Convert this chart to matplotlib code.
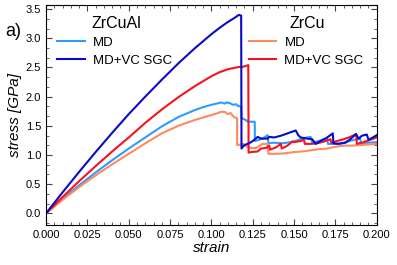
# stress-strain curves, ZrCuAl vs ZrCu

from matplotlib import pyplot as plt
from matplotlib.ticker import MultipleLocator, AutoMinorLocator

plt.rcParams['font.family'] = ['Liberation Sans', 'DejaVu Sans']

# ZrCuAl, MD
strain_al_md = [0, 0.01, 0.02, 0.03, 0.04, 0.05, 0.06, 0.07, 0.08, 0.09, 0.095, 0.1,
                0.103, 0.106, 0.108, 0.109, 0.111, 0.113, 0.115, 0.116, 0.118, 0.1183, 0.1208,
                0.122, 0.1262, 0.1263, 0.129, 0.132, 0.134, 0.1345, 0.138, 0.143, 0.148, 0.152,
                0.156, 0.160, 0.161, 0.165, 0.170, 0.1705, 0.175, 0.180, 0.185, 0.190, 0.1905,
                0.195, 0.200]
stress_al_md = [0, 0.25, 0.48, 0.70, 0.91, 1.11, 1.30, 1.49, 1.65, 1.77, 1.82, 1.86,
                1.88, 1.90, 1.88, 1.90, 1.89, 1.86, 1.87, 1.84, 1.83, 1.63, 1.60,
                1.57, 1.57, 1.24, 1.26, 1.30, 1.34, 1.20, 1.21, 1.20, 1.22, 1.25,
                1.29, 1.31, 1.21, 1.24, 1.28, 1.19, 1.19, 1.21, 1.25, 1.28, 1.19,
                1.21, 1.22]

# ZrCuAl, MD+VC SGC
strain_al_sgc = [0, 0.01, 0.02, 0.03, 0.04, 0.05, 0.06, 0.07, 0.08, 0.09, 0.1, 0.105,
                 0.11, 0.114, 0.1165, 0.118, 0.1182, 0.1195, 0.121, 0.124, 0.126, 0.128,
                 0.130, 0.134, 0.135, 0.138, 0.142, 0.146, 0.151, 0.1525, 0.154, 0.158, 0.161,
                 0.163, 0.166, 0.170, 0.1734, 0.1738, 0.177, 0.181, 0.184, 0.1875, 0.189,
                 0.191, 0.194, 0.195, 0.197, 0.200]
stress_al_sgc = [0, 0.36, 0.71, 1.05, 1.38, 1.70, 2.00, 2.29, 2.57, 2.83, 3.07, 3.18,
                 3.28, 3.35, 3.40, 3.39, 1.11, 1.16, 1.18, 1.22, 1.26, 1.31,
                 1.28, 1.28, 1.31, 1.30, 1.33, 1.37, 1.42, 1.34, 1.30, 1.28, 1.27,
                 1.19, 1.24, 1.30, 1.37, 1.20, 1.19, 1.21, 1.27, 1.36, 1.28,
                 1.33, 1.35, 1.26, 1.29, 1.34]

# ZrCu, MD
strain_cu_md = [0, 0.01, 0.02, 0.03, 0.04, 0.05, 0.06, 0.07, 0.08, 0.09, 0.097, 0.103,
                0.106, 0.108, 0.110, 0.1115, 0.113, 0.1143, 0.1155, 0.1156,
                0.118, 0.1195, 0.121, 0.124, 0.127, 0.131, 0.134, 0.1345, 0.140, 0.145,
                0.150, 0.155, 0.160, 0.165, 0.170, 0.175, 0.180, 0.185, 0.190, 0.195, 0.200]
stress_cu_md = [0, 0.23, 0.45, 0.65, 0.84, 1.02, 1.20, 1.37, 1.50, 1.60, 1.66, 1.71,
                1.74, 1.74, 1.70, 1.72, 1.67, 1.64, 1.63, 1.17,
                1.18, 1.19, 1.15, 1.12, 1.12, 1.19, 1.19, 1.02, 1.02, 1.03,
                1.05, 1.06, 1.08, 1.10, 1.11, 1.14, 1.16, 1.16, 1.17, 1.18, 1.19]

# ZrCu, MD+VC SGC
strain_cu_sgc = [0, 0.01, 0.02, 0.03, 0.04, 0.05, 0.06, 0.07, 0.08, 0.09, 0.1, 0.105,
                 0.11, 0.115, 0.1175, 0.119, 0.1223, 0.1225, 0.124, 0.128,
                 0.130, 0.133, 0.135, 0.1355, 0.139, 0.142, 0.1425, 0.146, 0.149, 0.150,
                 0.154, 0.156, 0.1565, 0.160, 0.164, 0.168, 0.172, 0.1725, 0.176, 0.180,
                 0.184, 0.1875, 0.188, 0.192, 0.196, 0.200]
stress_cu_sgc = [0, 0.28, 0.55, 0.81, 1.06, 1.30, 1.55, 1.78, 1.99, 2.18, 2.35, 2.42,
                 2.47, 2.50, 2.51, 2.51, 2.54, 1.04, 1.05, 1.06,
                 1.11, 1.12, 1.16, 1.09, 1.13, 1.19, 1.11, 1.16, 1.23, 1.22,
                 1.24, 1.26, 1.19, 1.19, 1.20, 1.23, 1.27, 1.21, 1.24, 1.27,
                 1.31, 1.36, 1.19, 1.22, 1.26, 1.30]

c_al_md = '#2f9bff'
c_al_sgc = '#0a0ac8'
c_cu_md = '#ff8a5c'
c_cu_sgc = '#f5141e'

fig = plt.figure(figsize=(3.97, 2.65), dpi=100)
ax = fig.add_axes([0.116, 0.151, 0.833, 0.830])

l1, = ax.plot(strain_al_md, stress_al_md, color=c_al_md, lw=1.5, label='MD')
l3, = ax.plot(strain_cu_md, stress_cu_md, color=c_cu_md, lw=1.5, label='MD')
l4, = ax.plot(strain_cu_sgc, stress_cu_sgc, color=c_cu_sgc, lw=1.5, label='MD+VC SGC')
l2, = ax.plot(strain_al_sgc, stress_al_sgc, color=c_al_sgc, lw=1.5, label='MD+VC SGC')

ax.set_xlim(0, 0.2)
ax.set_ylim(-0.2, 3.57)
ax.xaxis.set_minor_locator(MultipleLocator(0.005))
ax.yaxis.set_major_locator(MultipleLocator(0.5))
ax.yaxis.set_minor_locator(AutoMinorLocator(3))
ax.set_xticks([0, 0.025, 0.05, 0.075, 0.1, 0.125, 0.15, 0.175, 0.2])
ax.set_xticklabels(['0.000', '0.025', '0.050', '0.075', '0.100', '0.125', '0.150', '0.175', '0.200'])
ax.tick_params(which='both', direction='in', top=True, right=True, labelsize=8, color='#444444')
ax.tick_params(which='major', length=4, width=0.8)
ax.tick_params(which='minor', length=2, width=0.6)
for sp in ax.spines.values():
    sp.set_linewidth(0.8)

ax.set_xlabel('strain', fontsize=11, style='italic', labelpad=1)
ax.set_ylabel('stress [GPa]', fontsize=11, style='italic', labelpad=3)

# legends, titles drawn separately
leg1 = ax.legend(handles=[l1, l2], loc='upper left', bbox_to_anchor=(0.033, 0.858),
                 frameon=False, fontsize=9.5, handlelength=2.1, handletextpad=0.6,
                 labelspacing=0.48, borderpad=0, borderaxespad=0)
ax.add_artist(leg1)
ax.legend(handles=[l3, l4], loc='upper left', bbox_to_anchor=(0.613, 0.858),
          frameon=False, fontsize=9.5, handlelength=2.1, handletextpad=0.6,
          labelspacing=0.48, borderpad=0, borderaxespad=0)
ax.text(0.136, 0.918, 'ZrCuAl', transform=ax.transAxes, fontsize=11.5, va='center')
ax.text(0.737, 0.918, 'ZrCu', transform=ax.transAxes, fontsize=11.5, va='center')

fig.text(0.012, 0.88, 'a)', fontsize=13, va='center')

plt.savefig('out.png')
